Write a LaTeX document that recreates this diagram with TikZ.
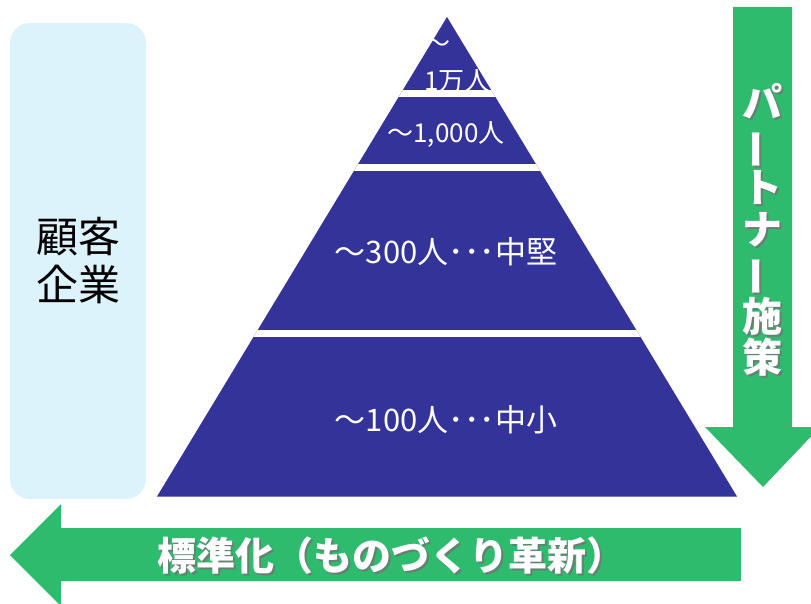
\documentclass[tikz,border=0pt]{standalone}
\usepackage{fontspec}
\usepackage{graphicx}
\newfontfamily\jp{Noto Sans CJK JP}
\definecolor{pyrblue}{RGB}{51,51,153}
\definecolor{arrgreen}{RGB}{46,187,110}
\definecolor{custblue}{RGB}{221,243,252}
\newcommand\verttext{パ\\\rotatebox[origin=c]{90}{ー}\\ト\\ナ\\\rotatebox[origin=c]{90}{ー}\\施\\策}
\newcommand\horitext{標準化（ものづくり革新）}
\begin{document}
\begin{tikzpicture}[x=1pt,y=-1pt,
  tiertext/.style={text=white,inner sep=0pt,font=\jp\fontsize{31}{33}\selectfont},
  smalltier/.style={text=white,inner sep=0pt,font=\jp\fontsize{26}{34}\selectfont},
  vtext/.style={inner sep=0pt,align=center,font=\jp\bfseries\fontsize{40}{41.5}\selectfont},
  htext/.style={inner sep=0pt,font=\jp\bfseries\fontsize{39}{44}\selectfont},
  shadow/.style={text=black!55,opacity=0.8},
  front/.style={text=white}]
\useasboundingbox (0,0) rectangle (811,604);
\clip (0,0) rectangle (811,604);
% customer box
\node[fill=custblue,rounded corners=20pt,minimum width=136pt,minimum height=476pt,inner sep=0pt] (cust) at (78,261) {};
\node[align=center,inner sep=0pt,font=\jp\fontsize{42}{48}\selectfont] (custtext) at (cust.center) {顧客\\企業};
% pyramid
\fill[pyrblue] (447,17) -- (737,496.5) -- (157,496.5) -- cycle;
\begin{scope}
  \clip (447,17) -- (737,496.5) -- (157,496.5) -- cycle;
  \fill[white] (100,90.5) rectangle (800,97);
  \fill[white] (100,164) rectangle (800,170.7);
  \fill[white] (100,330) rectangle (800,337);
\end{scope}
\node[smalltier,align=left,anchor=north west] (t1) at (424,39) {～\\[4pt]1万人};
\node[smalltier] (t2) at (446,134) {～1,000人};
\node[tiertext] (t3) at (446,252) {～300人･･･中堅};
\node[tiertext] (t4) at (446,420) {～100人･･･中小};
% down arrow
\fill[arrgreen] (733,7) -- (792,7) -- (792,427) -- (820,427) -- (763,487) -- (705,427) -- (733,427) -- cycle;
\node[vtext,shadow] (vshadow) at (764,232) {\verttext};
\node[vtext,front] (vt) at (762,230) {\verttext};
% left arrow
\fill[arrgreen] (741,528) -- (741,581) -- (61,581) -- (61,606) -- (10,555) -- (61,504) -- (61,528) -- cycle;
\node[htext,shadow] (hshadow) at (393,558) {\horitext};
\node[htext,front] (ht) at (391,556) {\horitext};
\end{tikzpicture}
\end{document}
